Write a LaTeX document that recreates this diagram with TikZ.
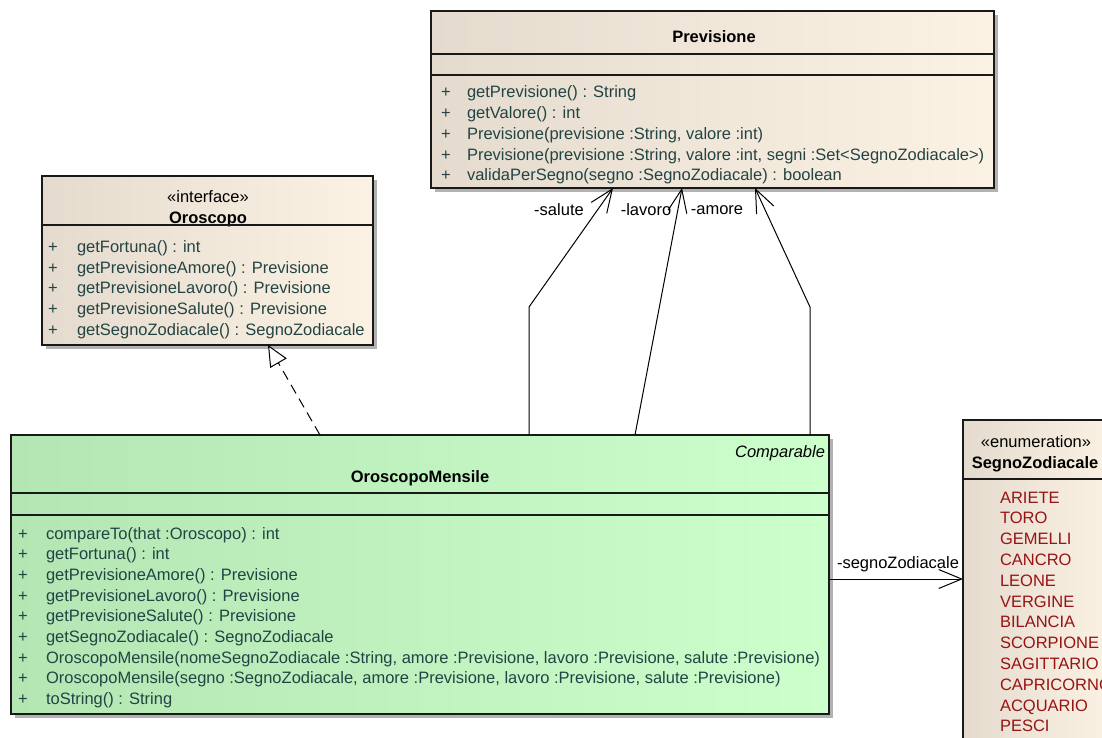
\documentclass[tikz,border=0pt]{standalone}
\usepackage{fontspec}
\setmainfont{Liberation Sans}
\usetikzlibrary{arrows.meta,shadows,calc}
\definecolor{meth}{RGB}{34,68,68}
\definecolor{enumc}{RGB}{150,20,20}
\definecolor{begL}{RGB}{228,219,206}
\definecolor{begR}{RGB}{252,242,228}
\definecolor{grnL}{RGB}{180,230,180}
\definecolor{grnR}{RGB}{204,255,204}
\newcommand\umlfont{\fontsize{16.5}{19}\selectfont}
\begin{document}
\begin{tikzpicture}[x=1pt,y=-1pt,
  every node/.style={font=\umlfont, inner sep=0pt, outer sep=0pt},
  umlbox/.style={draw=black!90, line width=1.2pt, anchor=north west,
    drop shadow={shadow xshift=4pt, shadow yshift=-4pt, fill=black!30, opacity=1}},
  beigebox/.style={left color=begL, right color=begR},
  greenbox/.style={left color=grnL, right color=grnR},
  divider/.style={draw=black!90, line width=1.2pt},
  mtxt/.style={anchor=base west, text=meth},
  plustxt/.style={anchor=base, text=meth},
  etxt/.style={anchor=base west, text=enumc},
  ttl/.style={anchor=base, font=\umlfont\bfseries},
  stereo/.style={anchor=base},
  assoc/.style={draw=black, line width=1pt, -{Straight Barb[length=23pt,width=19pt,line width=1pt]}},
  realiz/.style={draw=black, line width=1pt, dash pattern=on 10pt off 6pt, -{Triangle[open,length=21pt,width=19pt,line width=1pt,fill=white]}},
  rolelbl/.style={anchor=center}
]
\useasboundingbox (0,0) rectangle (1102,738);

% ---------- Previsione ----------
\node[umlbox,beigebox,minimum width=563pt,minimum height=177pt] (prev) at (431,11) {};
\node[ttl] (prevt) at (714,42.5) {Previsione};
\draw[divider] ($(prev.north west)+(0,43)$) -- ($(prev.north east)+(0,43)$);
\draw[divider] ($(prev.north west)+(0,64)$) -- ($(prev.north east)+(0,64)$);
\foreach \t [count=\i] in {{getPrevisione() : String},{getValore() : int},{Previsione(previsione :String, valore :int)},{Previsione(previsione :String, valore :int, segni :Set<SegnoZodiacale>)},{validaPerSegno(segno :SegnoZodiacale) : boolean}}{
  \node[plustxt] (pp\i) at (446,{98+20.7*(\i-1)}) {+};
  \node[mtxt] (pm\i) at (467,{98+20.7*(\i-1)}) {\t};
}

% ---------- Oroscopo ----------
\node[umlbox,beigebox,minimum width=331pt,minimum height=169pt] (oro) at (42,176) {};
\node[stereo] (orost) at (208,202.5) {«interface»};
\node[ttl] (orot) at (208,223.5) {Oroscopo};
\draw[divider] ($(oro.north west)+(0,49)$) -- ($(oro.north east)+(0,49)$);
\foreach \t [count=\i] in {{getFortuna() : int},{getPrevisioneAmore() : Previsione},{getPrevisioneLavoro() : Previsione},{getPrevisioneSalute() : Previsione},{getSegnoZodiacale() : SegnoZodiacale}}{
  \node[plustxt] (op\i) at (53,{252.5+20.7*(\i-1)}) {+};
  \node[mtxt] (om\i) at (77,{252.5+20.7*(\i-1)}) {\t};
}

% ---------- OroscopoMensile ----------
\node[umlbox,greenbox,minimum width=818pt,minimum height=279pt] (om) at (11,435) {};
\node[anchor=base east, font=\umlfont\itshape] (omc) at (825,457.5) {Comparable};
\node[ttl] (omt) at (420,482.5) {OroscopoMensile};
\draw[divider] ($(om.north west)+(0,58)$) -- ($(om.north east)+(0,58)$);
\draw[divider] ($(om.north west)+(0,80)$) -- ($(om.north east)+(0,80)$);
\foreach \t [count=\i] in {{compareTo(that :Oroscopo) : int},{getFortuna() : int},{getPrevisioneAmore() : Previsione},{getPrevisioneLavoro() : Previsione},{getPrevisioneSalute() : Previsione},{getSegnoZodiacale() : SegnoZodiacale},{OroscopoMensile(nomeSegnoZodiacale :String, amore :Previsione, lavoro :Previsione, salute :Previsione)},{OroscopoMensile(segno :SegnoZodiacale, amore :Previsione, lavoro :Previsione, salute :Previsione)},{toString() : String}}{
  \node[plustxt] (mp\i) at (23,{539+20.7*(\i-1)}) {+};
  \node[mtxt] (mm\i) at (46,{539+20.7*(\i-1)}) {\t};
}

% ---------- SegnoZodiacale ----------
\node[umlbox,beigebox,minimum width=150pt,minimum height=340pt] (sz) at (963,420) {};
\node[stereo] (szst) at (1036,447.5) {«enumeration»};
\node[ttl] (szt) at (1035,468.5) {SegnoZodiacale};
\draw[divider] ($(sz.north west)+(0,59)$) -- ($(sz.north east)+(0,59)$);
\foreach \t [count=\i] in {ARIETE,TORO,GEMELLI,CANCRO,LEONE,VERGINE,BILANCIA,SCORPIONE,SAGITTARIO,CAPRICORNO,ACQUARIO,PESCI}{
  \node[etxt] (se\i) at (1000,{503+20.8*(\i-1)}) {\t};
}

% ---------- connectors ----------
\draw[realiz] (om.north -| 320,0) -- (oro.south -| 268,0);
\draw[assoc] (om.north -| 529,0) -- (529,307) -- (prev.south -| 613,0);
\draw[assoc] (om.north -| 635,0) -- (prev.south -| 682,0);
\draw[assoc] (om.north -| 810,0) -- (810,307) -- (prev.south -| 755,0);
\draw[assoc] (om.east |- 0,579) -- (sz.west |- 0,579);

\node[rolelbl] (lsal) at (559,210) {-salute};
\node[rolelbl] (llav) at (646,210) {-lavoro};
\node[rolelbl] (lamo) at (717,210) {-amore};
\node[rolelbl] (lsz) at (898,564) {-segnoZodiacale};
\end{tikzpicture}
\end{document}
